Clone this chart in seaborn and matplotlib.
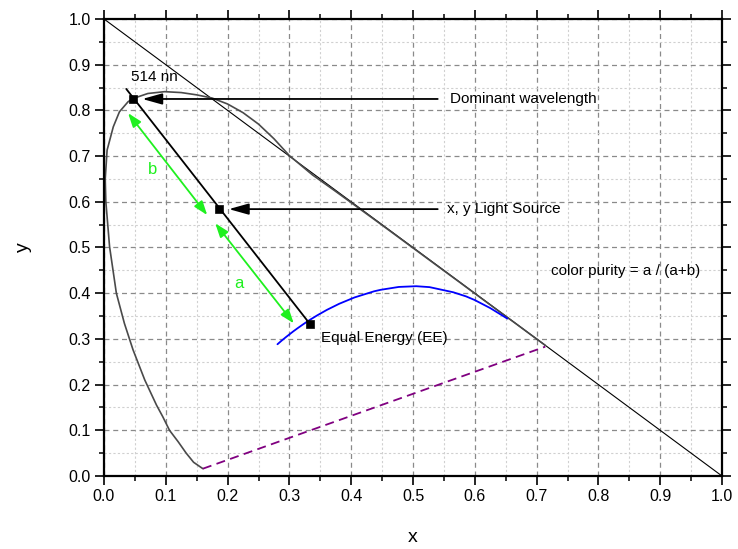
import matplotlib
matplotlib.use("Agg")
import matplotlib.pyplot as plt
from matplotlib.ticker import MultipleLocator, FormatStrFormatter
import seaborn as sns

# Spectral locus (x, y) as drawn in the reference
locus_x = [0.160, 0.145, 0.133, 0.120, 0.106, 0.095, 0.085, 0.066, 0.047, 0.033,
           0.020, 0.009, 0.003, 0.002, 0.005, 0.015, 0.025, 0.039, 0.047, 0.071,
           0.098, 0.125, 0.150, 0.175, 0.200, 0.225, 0.250, 0.275, 0.300, 0.3373,
           0.3731, 0.4087, 0.4441, 0.4788, 0.5125, 0.5448, 0.5752, 0.6029, 0.6270,
           0.6482, 0.6658, 0.6801, 0.6915, 0.7006, 0.7079, 0.7140]
locus_y = [0.016, 0.030, 0.050, 0.075, 0.100, 0.130, 0.155, 0.210, 0.276, 0.334,
           0.400, 0.502, 0.600, 0.650, 0.713, 0.764, 0.797, 0.819, 0.826, 0.837,
           0.841, 0.839, 0.834, 0.827, 0.814, 0.795, 0.770, 0.738, 0.701, 0.6589,
           0.6245, 0.5896, 0.5547, 0.5202, 0.4866, 0.4544, 0.4242, 0.3965, 0.3725,
           0.3514, 0.3340, 0.3197, 0.3083, 0.2993, 0.2920, 0.2859]

# Planckian locus
planck_x = [0.6527, 0.6250, 0.5996, 0.5857, 0.5650, 0.5267, 0.5052, 0.4770, 0.4476, 0.4369,
            0.4053, 0.3805, 0.3608, 0.3451, 0.3324, 0.3221, 0.3135, 0.3064, 0.2952, 0.2869, 0.2807]
planck_y = [0.3444, 0.3674, 0.3852, 0.3931, 0.4021, 0.4133, 0.4153, 0.4137, 0.4074, 0.4041,
            0.3907, 0.3768, 0.3636, 0.3516, 0.3411, 0.3318, 0.3236, 0.3166, 0.3048, 0.2956, 0.2883]

# Line of purples (dashed)
purple_x = [0.160, 0.714]
purple_y = [0.016, 0.283]

# Diagonal x + y = 1
diag_x = [0.0, 1.0]
diag_y = [1.0, 0.0]

# Line from EE through light source to dominant wavelength
dom_line_x = [0.333, 0.036]
dom_line_y = [0.333, 0.847]

# Marker points: dominant wavelength, light source, equal energy
pts_x = [0.047, 0.186, 0.333]
pts_y = [0.825, 0.584, 0.333]

# Green double arrows (b then a)
arr_b = [(0.039, 0.794), (0.167, 0.571)]
arr_a = [(0.180, 0.553), (0.307, 0.334)]

sns.set_theme(style="ticks")
plt.rcParams['font.family'] = ['Liberation Sans', 'DejaVu Sans']
plt.rcParams['text.color'] = 'black'
plt.rcParams['axes.labelcolor'] = 'black'

fig = plt.figure(figsize=(7.38, 5.49), dpi=100)
ax = fig.add_axes([104/738, 1-476/549, 618/738, 457/549])

ax.xaxis.set_major_locator(MultipleLocator(0.1))
ax.yaxis.set_major_locator(MultipleLocator(0.1))
ax.xaxis.set_minor_locator(MultipleLocator(0.05))
ax.yaxis.set_minor_locator(MultipleLocator(0.05))
ax.xaxis.set_major_formatter(FormatStrFormatter('%.1f'))
ax.yaxis.set_major_formatter(FormatStrFormatter('%.1f'))
ax.grid(which='major', color='#8a8a8a', linestyle=(0, (4, 3)), linewidth=0.9)
ax.grid(which='minor', color='#d0d0d0', linestyle=(0, (2, 2)), linewidth=0.8)
ax.set_axisbelow(True)

line_kw = dict(ax=ax, sort=False, estimator=None)
sns.lineplot(x=diag_x, y=diag_y, color='black', lw=0.8, **line_kw)
sns.lineplot(x=locus_x, y=locus_y, color='#4a4a4a', lw=1.2, **line_kw)
sns.lineplot(x=planck_x, y=planck_y, color='#0000ff', lw=1.3, **line_kw)
sns.lineplot(x=purple_x, y=purple_y, color='#800080', lw=1.3,
             linestyle=(0, (5, 3)), **line_kw)
sns.lineplot(x=dom_line_x, y=dom_line_y, color='black', lw=1.3, **line_kw)
sns.scatterplot(x=pts_x, y=pts_y, ax=ax, color='black', marker='s', s=36,
                edgecolor='black', zorder=5)

green = '#1ff01f'
for (p0, p1) in (arr_b, arr_a):
    ax.annotate('', xy=p1, xytext=p0,
                arrowprops=dict(arrowstyle='<|-|>,head_length=0.7,head_width=0.25',
                                color=green, lw=1.3, shrinkA=0, shrinkB=0))

ax.annotate('', xy=(0.062, 0.825), xytext=(0.54, 0.825),
            arrowprops=dict(arrowstyle='-|>,head_length=1.0,head_width=0.28',
                            color='black', lw=1.3, shrinkA=0, shrinkB=0))
ax.annotate('', xy=(0.202, 0.584), xytext=(0.54, 0.584),
            arrowprops=dict(arrowstyle='-|>,head_length=1.0,head_width=0.28',
                            color='black', lw=1.3, shrinkA=0, shrinkB=0))

fs = 11
ax.text(0.560, 0.825, 'Dominant wavelength', fontsize=fs, va='center', ha='left')
ax.text(0.555, 0.584, 'x, y Light Source', fontsize=fs, va='center', ha='left')
ax.text(0.044, 0.872, '514 nn', fontsize=fs, va='center', ha='left')
ax.text(0.351, 0.302, 'Equal Energy (EE)', fontsize=fs, va='center', ha='left')
ax.text(0.723, 0.449, 'color purity = a / (a+b)', fontsize=fs, va='center', ha='left')
ax.text(0.078, 0.670, 'b', fontsize=fs + 1, va='center', ha='center', color=green)
ax.text(0.218, 0.422, 'a', fontsize=fs + 1, va='center', ha='center', color=green)

ax.set_xlim(0, 1)
ax.set_ylim(0, 1)

for s in ax.spines.values():
    s.set_visible(True)
    s.set_linewidth(1.6)
    s.set_color('black')
ax.tick_params(which='both', direction='out', top=True, right=True,
               labeltop=False, labelright=False, colors='black', labelsize=11.5)
ax.tick_params(which='major', length=6.5, width=1.2, pad=3)
ax.tick_params(which='minor', length=3.5, width=1.1)

ax.set_xlabel('x', fontsize=14, labelpad=18)
ax.set_ylabel('y', fontsize=14, labelpad=26)

fig.savefig('out.png', dpi=100)
